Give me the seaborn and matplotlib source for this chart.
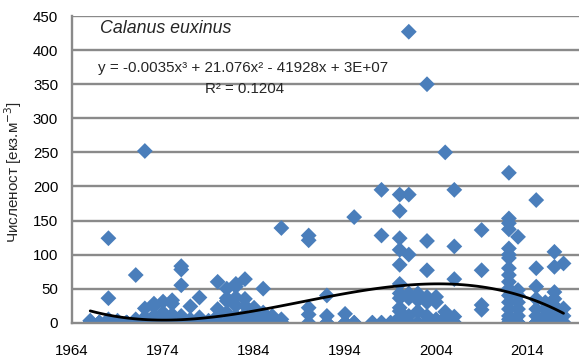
import numpy as np
import pandas as pd
import matplotlib
matplotlib.use("Agg")
import matplotlib.pyplot as plt
import seaborn as sns

# Calanus euxinus abundance per sample
years = [
    1966, 1966, 1967, 1968, 1968, 1968, 1968, 1969, 1969, 1970,
    1971, 1971, 1971, 1972, 1972, 1972, 1972, 1973, 1973, 1973, 1973,
    1974, 1974, 1974, 1974, 1975, 1975, 1975, 1975,
    1976, 1976, 1976, 1976, 1976, 1977, 1977, 1977, 1978, 1978, 1978,
    1979, 1979, 1980, 1980, 1980, 1980, 1981, 1981, 1981, 1981, 1981,
    1982, 1982, 1982, 1982, 1982, 1982, 1983, 1983, 1983, 1983, 1983,
    1984, 1984, 1984, 1985, 1985, 1985, 1985, 1986, 1986, 1987, 1987, 1987,
    1990, 1990, 1990, 1990, 1992, 1992, 1992, 1994, 1994, 1995, 1995,
    1997, 1998, 1998, 1998, 1999,
    2000, 2000, 2000, 2000, 2000, 2000, 2000, 2000, 2000, 2000, 2000, 2000,
    2001, 2001, 2001, 2001, 2001, 2001, 2001, 2002, 2002, 2002, 2002,
    2003, 2003, 2003, 2003, 2003, 2003, 2003, 2004, 2004, 2004, 2004,
    2005, 2005, 2005, 2005, 2006, 2006, 2006, 2006, 2006,
    2009, 2009, 2009, 2009,
    2012, 2012, 2012, 2012, 2012, 2012, 2012, 2012, 2012, 2012, 2012,
    2012, 2012, 2012, 2012, 2012, 2012,
    2013, 2013, 2013, 2013, 2013, 2013, 2013,
    2015, 2015, 2015, 2015, 2015, 2015, 2015, 2016, 2016, 2016, 2016,
    2017, 2017, 2017, 2017, 2017, 2017, 2017, 2017, 2018, 2018, 2018,
]
counts = [
    0, 3, 0, 0, 124, 36, 5, 0, 3, 0,
    0, 70, 5, 0, 252, 21, 8, 0, 24, 28, 10,
    0, 31, 15, 5, 0, 28, 33, 12,
    0, 83, 78, 55, 10, 0, 24, 5, 0, 37, 8,
    0, 3, 0, 60, 20, 10, 0, 50, 32, 36, 15,
    0, 57, 53, 37, 25, 10, 0, 64, 35, 25, 12,
    0, 22, 8, 0, 50, 15, 5, 0, 10, 0, 139, 5,
    128, 121, 22, 12, 0, 40, 10, 0, 13, 0, 155,
    0, 0, 195, 128, 0,
    0, 188, 164, 124, 107, 85, 57, 43, 36, 22, 17, 8,
    0, 427, 188, 100, 43, 36, 10, 0, 43, 33, 17,
    0, 350, 120, 77, 38, 30, 10, 0, 38, 30, 5,
    0, 250, 16, 8, 0, 195, 112, 64, 9,
    136, 77, 26, 19,
    220, 153, 146, 137, 109, 100, 95, 80, 70, 60, 50,
    40, 30, 20, 10, 0, 5,
    126, 48, 40, 30, 20, 10, 0,
    180, 80, 53, 35, 20, 10, 0, 30, 20, 10, 0,
    104, 82, 45, 35, 25, 15, 5, 0, 87, 21, 10,
]

# extra zero samples hidden under the dense baseline row
zero_years = [1966, 1967, 1968, 1969, 1970, 1971, 1972, 1973, 1974, 1975,
              1976, 1977, 1978, 1979, 1980, 1981, 1982, 1983, 1984, 1985,
              1986, 1987, 1990, 1992, 1994, 1995, 1997, 1998, 1999, 2000,
              2001, 2002, 2003, 2004, 2005, 2006, 2012, 2013, 2015, 2016,
              2017, 2018]
zero_n = [5, 5, 5, 5, 5, 5, 5, 5, 5, 5,
          5, 5, 5, 5, 5, 5, 5, 5, 5, 5,
          5, 5, 1, 1, 1, 1, 1, 1, 1, 1,
          1, 1, 1, 1, 1, 1, 8, 5, 4, 4,
          5, 3]

x_ticks = [1964, 1974, 1984, 1994, 2004, 2014]
y_ticks = [0, 50, 100, 150, 200, 250, 300, 350, 400, 450]

df = pd.concat([
    pd.DataFrame({"year": years, "count": counts}),
    pd.DataFrame({"year": np.repeat(zero_years, zero_n), "count": 0}),
], ignore_index=True)

sns.set_style("white")
plt.rcParams["font.family"] = ["Liberation Sans", "DejaVu Sans"]

fig = plt.figure(figsize=(5.79, 3.57), dpi=100)
ax = fig.add_axes([0.1244, 0.096, 0.8756, 0.859])

grid_col = "#8a8a8a"
for v in y_ticks[1:]:
    ax.axhline(v, color=grid_col, lw=1.7, zorder=0)

sns.scatterplot(data=df, x="year", y="count", marker="D", s=65,
                color="#4a7ebb", edgecolor="none", ax=ax, zorder=2)
# 3rd order polynomial trend line
sns.regplot(data=df, x="year", y="count", order=3, ci=None, scatter=False,
            color="black", line_kws={"lw": 2}, ax=ax)

ax.set_xlim(1964, 2019.7)
ax.set_ylim(0, 450)
ax.set_xticks(x_ticks)
ax.set_yticks(y_ticks)
ax.tick_params(labelsize=10.8, colors="black", length=4, width=1.5)
ax.tick_params(axis="both", color=grid_col)
ax.tick_params(axis="x", pad=11)
ax.tick_params(axis="y", pad=6)

for side in ["top", "right"]:
    ax.spines[side].set_visible(False)
for side in ["left", "bottom"]:
    ax.spines[side].set_color(grid_col)
    ax.spines[side].set_linewidth(1.7)

ax.set_xlabel("")
ax.set_ylabel("Численост [екз.м$^{-3}$]", fontsize=11)
ax.yaxis.set_label_coords(-0.094, 0.49)

ax.text(0.055, 0.961, "Calanus euxinus", transform=ax.transAxes,
        fontsize=12.8, style="italic", va="center", ha="left")
ax.text(0.051, 0.83, "y = -0.0035x³ + 21.076x² - 41928x + 3E+07",
        transform=ax.transAxes, fontsize=10.9, va="center", ha="left")
ax.text(0.262, 0.762, "R² = 0.1204", transform=ax.transAxes,
        fontsize=10.8, va="center", ha="left")

fig.savefig("out.png", dpi=100)
